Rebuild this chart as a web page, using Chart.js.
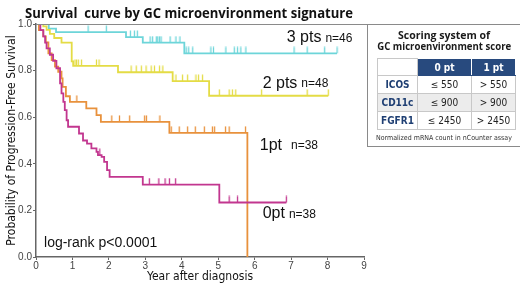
<!DOCTYPE html>
<html>
<head>
<meta charset="utf-8">
<title>Survival curve by GC microenvironment signature</title>
<script src="https://cdn.jsdelivr.net/npm/chart.js@4.4.1/dist/chart.umd.min.js"></script>
<style>
  body { margin: 0; background: #fff; }
  .wrap { position: relative; width: 520px; height: 288px; overflow: hidden; }
  #kmChart { position: absolute; left: 0; top: 0; }
  .main-title {
    position: absolute; left: 25px; top: 2px; white-space: nowrap;
    font: bold 15px "Open Sans", sans-serif; color: #111; transform-origin: 0 0;
  }
  .score-panel {
    position: absolute; left: 367px; top: 24px; width: 160px; height: 123px;
    border: 1px solid #8a8a8a; box-sizing: border-box;
  }
  .score-title {
    position: absolute; left: 0; top: 5px; width: 152px; text-align: center; white-space: nowrap;
    font: bold 10.5px/10.5px "Open Sans", sans-serif; color: #1a1a1a;
  }
  .score-title span { display: inline-block; transform-origin: 50% 50%; }
  .score-table {
    position: absolute; left: 9px; top: 33px; border-collapse: collapse;
    font-family: "Liberation Sans Narrow", "DejaVu Sans Condensed", sans-serif;
    font-size: 10px; color: #222; table-layout: fixed;
  }
  .score-table td, .score-table th { border: 1px solid #c8c8c8; text-align: center; padding: 0; }
  .score-table th { height: 16px; background: #284a7e; color: #fff; font-weight: bold; border-color: #fff #fff #284a7e #fff; }
  .score-table th.blank { background: #fff; border: 1px solid #c8c8c8; }
  .score-table td { height: 17px; }
  .score-table td.gene { color: #1f3f73; font-weight: bold; }
  .score-table tr.shade td { background: #ececec; }
  .score-note {
    position: absolute; left: 0; top: 109px; width: 152px; text-align: center;
    font: 7px "Liberation Sans Narrow", "DejaVu Sans Condensed", sans-serif; color: #333;
  }
</style>
</head>
<body>
<div class="wrap">
  <canvas id="kmChart" width="520" height="288"></canvas>
  <div class="main-title" id="mainTitle">Survival&nbsp; curve by GC microenvironment signature</div>
  <div class="score-panel">
    <div class="score-title"><span>Scoring system of</span><br><span id="scoreTitle2">GC microenvironment score</span></div>
    <table class="score-table">
      <colgroup><col style="width:40px"><col style="width:54px"><col style="width:44px"></colgroup>
      <tr><th class="blank"></th><th>0 pt</th><th>1 pt</th></tr>
      <tr><td class="gene">ICOS</td><td>≤ 550</td><td>&gt; 550</td></tr>
      <tr class="shade"><td class="gene">CD11c</td><td>≤ 900</td><td>&gt; 900</td></tr>
      <tr><td class="gene">FGFR1</td><td>≤ 2450</td><td>&gt; 2450</td></tr>
    </table>
    <div class="score-note">Normalized mRNA count in nCounter assay</div>
  </div>
</div>

<script>
// Axis ticks
const yearTicks = [0, 1, 2, 3, 4, 5, 6, 7, 8, 9];
const yearLabels = ['0', '1', '2', '3', '4', '5', '6', '7', '8', '9'];
const survTicks = [0, 0.2, 0.4, 0.6, 0.8, 1.0];
const survLabels = ['0.0', '0.2', '0.4', '0.6', '0.8', '1.0'];

// 3 pts (n=46)
const pts3Time = [0, 0.35, 0.55, 2.47, 2.93, 4.07, 8.26];
const pts3Surv = [1, 0.98, 0.965, 0.944, 0.92, 0.874, 0.874];
const pts3Cens = [1.43, 1.93, 2.59, 2.70, 2.78, 3.13, 3.2, 3.3, 3.34, 3.39, 3.43, 3.68, 3.84, 3.95,
  4.12, 4.19, 4.3, 4.8, 4.87, 5.21, 5.44, 5.53, 5.62, 5.76, 7.08, 7.44, 7.92, 8.26];

// 2 pts (n=48)
const pts2Time = [0, 0.2, 0.29, 0.38, 0.5, 0.7, 0.98, 1.02, 2.25, 3.75, 4.75, 8.02];
const pts2Surv = [1, 0.99, 0.975, 0.958, 0.94, 0.92, 0.84, 0.82, 0.793, 0.755, 0.692, 0.692];
const pts2Cens = [1.07, 1.11, 1.16, 1.25, 1.66, 1.73, 2.61, 2.75, 2.89, 3.02, 3.16, 3.25, 3.39, 3.48,
  3.84, 4.02, 4.16, 4.39, 4.46, 4.57, 5.03, 5.3, 5.39, 5.48, 6.19, 7.44, 8.02];

// 1 pt (n=38)
const pts1Time = [0, 0.08, 0.2, 0.27, 0.34, 0.43, 0.52, 0.61, 0.7, 0.73, 0.82, 0.93, 1.38, 1.66, 1.78, 3.66, 5.8];
const pts1Surv = [1, 0.974, 0.947, 0.921, 0.874, 0.845, 0.817, 0.795, 0.767, 0.73, 0.69, 0.666, 0.638, 0.609, 0.58, 0.533, 0];
const pts1Cens = [1.12, 2.08, 2.29, 2.57, 2.98, 3.03, 3.4, 3.71, 3.93, 4.16, 4.37, 4.62, 4.84, 4.9, 5.2, 5.3, 5.75];

// 0 pt (n=38)
const pts0Time = [0, 0.12, 0.2, 0.25, 0.29, 0.38, 0.47, 0.56, 0.66, 0.7, 0.75, 0.79, 0.84, 0.88, 1.18, 1.29,
  1.4, 1.52, 1.66, 1.7, 1.8, 1.87, 1.95, 2.02, 2.93, 5.03, 6.87];
const pts0Surv = [1, 0.974, 0.947, 0.92, 0.895, 0.868, 0.842, 0.81, 0.745, 0.702, 0.666, 0.63, 0.587, 0.559, 0.53, 0.5,
  0.487, 0.466, 0.451, 0.437, 0.43, 0.408, 0.373, 0.344, 0.311, 0.234, 0.234];
const pts0Cens = [1.75, 3.11, 3.37, 3.54, 3.66, 3.83, 5.3, 5.53, 6.87];

const colors = {
  pts3: '#6dd5d9',
  pts2: '#e4dc45',
  pts1: '#e8913c',
  pts0: '#c2368f'
};

function stepPoints(times, surv) {
  return times.map((t, i) => ({ x: t, y: surv[i] }));
}

// survival value at time t (step function)
function survAt(times, surv, t) {
  let s = surv[0];
  for (let i = 0; i < times.length; i++) {
    if (times[i] <= t && surv[i] > 0) s = surv[i];
  }
  return s;
}

function censorPoints(times, surv, cens) {
  return cens.map(t => ({ x: t, y: survAt(times, surv, t) }));
}

// small upward tick used as censor mark
function censorMark(color) {
  const c = document.createElement('canvas');
  c.width = 3;
  c.height = 14;
  const ctx = c.getContext('2d');
  ctx.strokeStyle = color;
  ctx.lineWidth = 1.3;
  ctx.beginPath();
  ctx.moveTo(1.5, 0.5);
  ctx.lineTo(1.5, 7);
  ctx.stroke();
  return c;
}

function curve(times, surv, color) {
  return {
    type: 'line',
    data: stepPoints(times, surv),
    borderColor: color,
    borderWidth: 1.8,
    stepped: 'before',
    pointRadius: 0,
    fill: false
  };
}

function censors(times, surv, cens, color) {
  return {
    type: 'line',
    data: censorPoints(times, surv, cens),
    showLine: false,
    pointStyle: censorMark(color),
    pointRadius: 3,
    borderColor: color
  };
}

const narrow = "'Liberation Sans Narrow', 'DejaVu Sans Condensed', sans-serif";

// text labels inside the plot
const curveLabels = {
  id: 'curveLabels',
  afterDatasetsDraw(chart) {
    const { ctx, chartArea, scales: { x, y } } = chart;
    const items = [
      { big: '3 pts', small: 'n=46', at: [6.88, 0.94] },
      { big: '2 pts', small: 'n=48', at: [6.22, 0.746] },
      { big: '1pt', small: 'n=38', at: [6.14, 0.48], gap: 9 },
      { big: '0pt', small: 'n=38', at: [6.22, 0.188] }
    ];
    ctx.save();
    ctx.fillStyle = '#111';
    ctx.textBaseline = 'middle';
    items.forEach(it => {
      const px = x.getPixelForValue(it.at[0]);
      const py = y.getPixelForValue(it.at[1]);
      ctx.font = "16px 'Liberation Sans', Arial, sans-serif";
      ctx.fillText(it.big, px, py);
      const w = ctx.measureText(it.big).width;
      ctx.font = "12px 'Liberation Sans', Arial, sans-serif";
      ctx.fillText(it.small, px + w + (it.gap || 4), py + 1);
    });
    ctx.font = "14px 'Liberation Sans', Arial, sans-serif";
    ctx.fillText('log-rank p<0.0001', x.getPixelForValue(0.22), y.getPixelForValue(0.059));

    // top frame line running into the score panel
    ctx.strokeStyle = '#8a8a8a';
    ctx.lineWidth = 1;
    ctx.beginPath();
    ctx.moveTo(chartArea.left, chartArea.top + 0.5);
    ctx.lineTo(368, chartArea.top + 0.5);
    ctx.stroke();
    ctx.restore();
  }
};

new Chart(document.getElementById('kmChart'), {
  type: 'line',
  data: {
    datasets: [
      curve(pts0Time, pts0Surv, colors.pts0),
      censors(pts0Time, pts0Surv, pts0Cens, colors.pts0),
      curve(pts1Time, pts1Surv, colors.pts1),
      censors(pts1Time, pts1Surv, pts1Cens, colors.pts1),
      curve(pts2Time, pts2Surv, colors.pts2),
      censors(pts2Time, pts2Surv, pts2Cens, colors.pts2),
      curve(pts3Time, pts3Surv, colors.pts3),
      censors(pts3Time, pts3Surv, pts3Cens, colors.pts3)
    ]
  },
  options: {
    responsive: false,
    animation: false,
    events: [],
    layout: { padding: { left: 0, top: 24, right: 156, bottom: 0 } },
    plugins: {
      legend: { display: false },
      tooltip: { enabled: false }
    },
    scales: {
      x: {
        type: 'linear',
        min: 0,
        max: 9,
        afterFit: scale => { scale.height = 31; },
        afterBuildTicks: scale => { scale.ticks = yearTicks.map(v => ({ value: v })); },
        grid: { drawOnChartArea: false, tickLength: 3, color: '#666' },
        border: { color: '#666', width: 1.5 },
        ticks: {
          padding: 0,
          color: '#444',
          font: { size: 10, family: "'Liberation Sans', Arial, sans-serif" },
          callback: v => yearLabels[yearTicks.indexOf(v)]
        },
        title: {
          display: true,
          text: 'Year after diagnosis',
          color: '#111',
          font: { size: 12, family: narrow },
          padding: { top: 0, bottom: 4 }
        }
      },
      y: {
        min: 0,
        max: 1,
        afterFit: scale => { scale.width = 36; },
        afterBuildTicks: scale => { scale.ticks = survTicks.map(v => ({ value: v })); },
        grid: { drawOnChartArea: false, tickLength: 3, color: '#666' },
        border: { color: '#666', width: 1.5 },
        ticks: {
          padding: 1,
          color: '#444',
          font: { size: 10, family: "'Liberation Sans', Arial, sans-serif" },
          callback: v => survLabels[survTicks.indexOf(v)]
        },
        title: {
          display: true,
          text: 'Probability of Progression-Free Survival',
          color: '#111',
          font: { size: 12, family: narrow },
          padding: { top: 5, bottom: 0 }
        }
      }
    }
  },
  plugins: [curveLabels]
});

// squeeze headings to the reference widths
function fitWidth(el, maxW) {
  const w = el.getBoundingClientRect().width;
  if (w > maxW) el.style.transform = 'scaleX(' + (maxW / w) + ')';
}
fitWidth(document.getElementById('mainTitle'), 328);
fitWidth(document.getElementById('scoreTitle2'), 134);
</script>
</body>
</html>
